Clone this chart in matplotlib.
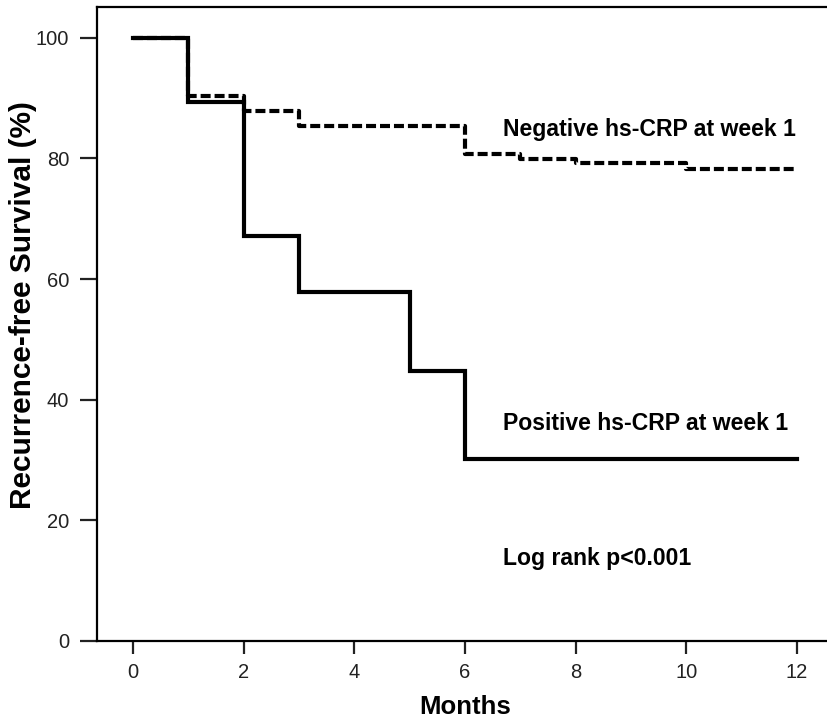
import matplotlib
matplotlib.use("Agg")
import matplotlib.pyplot as plt
import numpy as np

# Data
pos_months = [0, 1, 2, 3, 5, 6, 12]
pos_surv = [100, 89.4, 67.2, 57.9, 44.8, 30.2, 30.2]

neg_months = [0, 1, 2, 3, 6, 7, 8, 10, 12]
neg_surv = [100, 90.4, 87.9, 85.4, 80.7, 79.9, 79.2, 78.3, 78.3]

x_ticks = [0, 2, 4, 6, 8, 10, 12]
y_ticks = [0, 20, 40, 60, 80, 100]

plt.rcParams['font.family'] = ['Liberation Sans', 'DejaVu Sans']

fig = plt.figure(figsize=(8.28, 7.22), dpi=100)
ax = fig.add_axes([97/828, 1 - 641/722, 1 - 97/828, (641 - 7)/722])

ax.step(neg_months, neg_surv, where='post', color='black', lw=3.0,
        linestyle=(0, (2.4, 0.95)), zorder=2)
ax.step(pos_months, pos_surv, where='post', color='black', lw=3.0,
        solid_joinstyle='miter', zorder=3)

ax.set_xlim(-0.65, 12.56)
ax.set_ylim(0, 105.1)
ax.set_xticks(x_ticks)
ax.set_yticks(y_ticks)
ax.spines['right'].set_visible(False)
for s in ['left', 'top', 'bottom']:
    ax.spines[s].set_linewidth(1.6)
ax.tick_params(axis='y', direction='out', length=12, width=1.6, pad=8,
               labelsize=14.5, colors='#222222')
ax.tick_params(axis='x', direction='out', length=9.5, width=1.6, pad=6,
               labelsize=14.5, colors='#222222')

fig.text(23/828, 1 - 305/722, 'Recurrence-free Survival (%)', fontsize=21.5,
         fontweight='bold', rotation=90, ha='center', va='center')
fig.text(465/828, 1 - 707/722, 'Months', fontsize=18.5, fontweight='bold',
         ha='center', va='center')

ax.text(6.69, 84.8, 'Negative hs-CRP at week 1', fontsize=16.6,
        fontweight='bold', va='center', ha='left')
ax.text(6.69, 36.1, 'Positive hs-CRP at week 1', fontsize=16.6,
        fontweight='bold', va='center', ha='left')
ax.text(6.69, 13.7, 'Log rank p<0.001', fontsize=16.6,
        fontweight='bold', va='center', ha='left')

fig.savefig('out.png', dpi=100)
